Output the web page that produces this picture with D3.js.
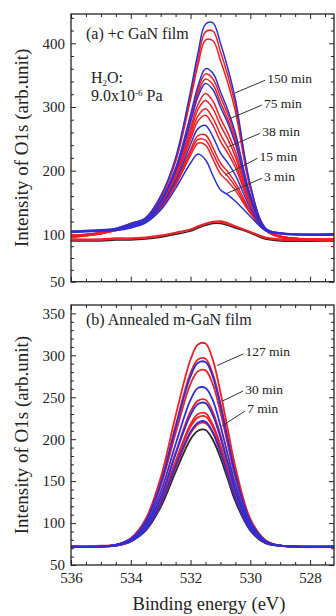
<!DOCTYPE html>
<html>
<head>
<meta charset="utf-8">
<script src="https://cdn.jsdelivr.net/npm/d3@7"></script>
<style>
  body { margin: 0; background: #fff; }
  svg { display: block; font-family: "Liberation Serif", "DejaVu Serif", serif; }
</style>
</head>
<body>
<svg id="chart" width="336" height="616"></svg>
<script>
// Binding energy grid shared by every spectrum (eV)
const energy = [536, 535, 534.5, 534, 533.5, 533, 532.5, 532, 531.75, 531.5, 531.25, 531, 530.75, 530.5, 530, 529.5, 529, 527.2];

// (a) +c GaN film: O1s spectra
const topColors = ["black", "red", "red",
  "blue", "red", "red", "blue", "red", "red", "blue", "red", "red", "red", "red", "blue", "red", "red", "blue", "red"];
const topValues = [
  [93, 93, 94, 94, 95, 97, 100, 105, 110, 114, 117, 117, 114, 110, 102, 95, 93, 93],
  [95, 95, 96, 96, 97, 99, 103, 108, 113, 117, 120, 121, 118, 113, 104, 97, 95, 95],
  [94, 94, 95, 95, 96, 98, 102, 107, 112, 116, 119, 119, 116, 112, 103, 96, 94, 94],
  [103, 105, 106, 110, 118, 138, 172, 212, 226, 217, 192, 170, 162, 152, 128, 106, 101, 99],
  [97, 101, 106, 111, 119, 140, 177, 224, 243, 240, 218, 195, 183, 169, 133, 106, 97, 93],
  [97, 101, 106, 111, 119, 141, 179, 229, 249, 248, 227, 204, 191, 175, 135, 107, 97, 93],
  [104, 106, 107, 112, 120, 144, 184, 241, 266, 271, 253, 228, 212, 193, 141, 107, 101, 100],
  [97, 101, 107, 111, 120, 142, 181, 233, 255, 256, 236, 212, 198, 181, 137, 107, 97, 93],
  [98, 102, 107, 112, 121, 145, 188, 249, 278, 287, 271, 246, 227, 205, 145, 107, 97, 94],
  [104, 106, 108, 114, 122, 150, 199, 276, 316, 337, 327, 300, 274, 242, 156, 108, 102, 100],
  [98, 102, 107, 113, 121, 146, 190, 255, 286, 297, 282, 257, 236, 212, 147, 108, 97, 94],
  [98, 102, 107, 113, 122, 148, 193, 261, 296, 310, 297, 271, 249, 222, 150, 108, 97, 94],
  [98, 102, 108, 113, 122, 149, 195, 267, 304, 321, 309, 282, 259, 230, 152, 108, 98, 94],
  [98, 102, 108, 114, 123, 151, 201, 279, 321, 344, 335, 307, 280, 247, 158, 108, 98, 94],
  [104, 106, 108, 115, 123, 153, 204, 288, 333, 360, 353, 324, 295, 259, 162, 109, 102, 100],
  [98, 102, 108, 114, 123, 152, 202, 284, 327, 352, 344, 316, 288, 253, 160, 109, 98, 94],
  [99, 103, 109, 116, 125, 157, 214, 312, 366, 405, 404, 373, 337, 293, 172, 110, 98, 95],
  [105, 107, 109, 117, 126, 160, 220, 325, 385, 430, 432, 400, 360, 312, 178, 110, 102, 101],
  [99, 103, 109, 117, 126, 159, 217, 319, 376, 418, 419, 387, 349, 303, 175, 110, 98, 95]
];

// (b) Annealed m-GaN film
const botColors = ["black", "red", "blue", "red", "red", "blue", "red", "blue", "red", "blue", "red", "red"];
const botValues = [
  [72, 72, 73, 78, 91, 119, 161, 200, 210, 211, 199, 178, 152, 126, 91, 76, 73, 72],
  [72, 72, 73, 78, 92, 122, 166, 207, 218, 219, 207, 184, 156, 130, 92, 77, 73, 72],
  [72, 72, 73, 78, 92, 123, 168, 209, 220, 221, 208, 185, 157, 130, 92, 77, 73, 72],
  [72, 72, 73, 78, 93, 125, 172, 215, 226, 227, 214, 190, 161, 133, 93, 77, 73, 72],
  [72, 72, 74, 79, 94, 126, 174, 218, 230, 231, 217, 193, 163, 134, 94, 77, 73, 72],
  [72, 72, 74, 79, 95, 130, 182, 229, 242, 243, 228, 202, 170, 139, 95, 77, 73, 72],
  [72, 72, 74, 79, 96, 131, 184, 233, 246, 247, 232, 205, 172, 140, 96, 78, 73, 72],
  [72, 72, 74, 80, 98, 137, 194, 247, 261, 261, 246, 216, 181, 146, 98, 78, 73, 72],
  [72, 72, 74, 81, 101, 144, 207, 266, 281, 282, 265, 232, 193, 154, 101, 79, 73, 72],
  [72, 72, 74, 81, 102, 147, 214, 275, 291, 292, 274, 240, 198, 158, 102, 79, 73, 72],
  [72, 73, 74, 81, 103, 148, 216, 279, 295, 296, 277, 243, 201, 160, 103, 79, 73, 72],
  [72, 72, 74, 82, 105, 154, 228, 295, 313, 314, 294, 256, 211, 167, 105, 80, 73, 72]
];

// Time labels and leader lines, [eV, intensity]
const topLabels = ["150 min", "75 min", "38 min", "15 min", "3 min"];
const topLabelFrom = [[529.50, 342], [529.61, 303], [529.67, 258.6], [529.76, 219.4], [529.61, 188]];
const topLabelTo = [[530.51, 322], [530.67, 282], [530.73, 237.6], [530.84, 193], [530.78, 164.4]];
const botLabels = ["127 min", "30 min", "7 min"];
const botLabelFrom = [[530.23, 301.7], [530.24, 257.4], [530.17, 233.7]];
const botLabelTo = [[531.12, 287.7], [530.94, 245.4], [530.95, 215.8]];

// Ticks
const xTicks = [536, 534, 532, 530, 528];
const xMinor = d3.range(536, 527, -0.5).filter(d => !xTicks.includes(d));
const yTopTicks = [50, 100, 200, 300, 400];
const yTopMinor = [62.5, 75, 87.5].concat(d3.range(120, 446, 20).filter(d => d % 100 !== 0));
const yBotTicks = [50, 100, 150, 200, 250, 300, 350];
const yBotMinor = d3.range(60, 360, 10).filter(d => d % 50 !== 0);

const colorMap = { red: "#ee1f26", blue: "#2d2fd6", black: "#262626" };
const ink = "#222";

const svg = d3.select("#chart");
const x = d3.scaleLinear().domain([536, 527.2]).range([71, 334]);
const yTop = d3.scaleLinear().domain([50, 100, 446]).range([281.7, 234.3, 14]);
const yBot = d3.scaleLinear().domain([50, 360]).range([565, 305]);

function styleAxis(sel) {
  sel.select(".domain").remove();
  sel.selectAll(".tick line").attr("stroke", ink).attr("stroke-width", 1);
  sel.selectAll(".tick text").attr("fill", ink).style("font-size", "15px")
    .style("font-family", "Liberation Serif, serif");
}

function drawPanel(id, y, ticks, minor, colors, values, labels, from, to, showX) {
  const [x0, x1] = x.range();
  const yb = y.range()[0], yt = y.range()[y.range().length - 1];
  const g = svg.append("g");

  svg.append("clipPath").attr("id", "clip-" + id)
    .append("rect").attr("x", x0).attr("y", yt).attr("width", x1 - x0).attr("height", yb - yt);

  // Axes with inward ticks on all four sides
  const axes = [
    [() => d3.axisBottom(x), `translate(0,${yb})`, xTicks, xMinor, showX, 7],
    [() => d3.axisTop(x), `translate(0,${yt})`, xTicks, xMinor, false, 0],
    [() => d3.axisLeft(y), `translate(${x0},0)`, ticks, minor, true, 6],
    [() => d3.axisRight(y), `translate(${x1},0)`, ticks, minor, false, 0]
  ];
  axes.forEach(([make, tr, maj, mnr, lab, pad]) => {
    g.append("g").attr("transform", tr)
      .call(make().tickValues(mnr).tickSize(-3).tickFormat(""))
      .call(styleAxis);
    g.append("g").attr("transform", tr)
      .call(make().tickValues(maj).tickSize(-5).tickPadding(pad)
        .tickFormat(lab ? d3.format("d") : ""))
      .call(styleAxis);
  });

  // Spectra
  const line = d3.line().x((d, i) => x(energy[i])).y(d => y(d)).curve(d3.curveCatmullRom.alpha(0.5));
  const order = ["black", "red", "blue"];
  const idx = d3.range(values.length).sort((a, b) => order.indexOf(colors[a]) - order.indexOf(colors[b]) || a - b);
  g.append("g").attr("clip-path", `url(#clip-${id})`)
    .selectAll("path").data(idx).join("path")
    .attr("d", i => line(values[i]))
    .attr("fill", "none")
    .attr("stroke", i => colorMap[colors[i]])
    .attr("stroke-width", id === "a" ? 1.5 : 1.8)
    .attr("stroke-linejoin", "round");

  // Leader lines and time labels
  labels.forEach((t, i) => {
    g.append("line")
      .attr("x1", x(from[i][0])).attr("y1", y(from[i][1]))
      .attr("x2", x(to[i][0])).attr("y2", y(to[i][1]))
      .attr("stroke", "#333").attr("stroke-width", 1);
    g.append("text")
      .attr("x", x(from[i][0]) + 2).attr("y", y(from[i][1]) + 2.5)
      .attr("fill", ink).style("font-size", "13.5px").text(t);
  });

  // Frame
  g.append("rect").attr("x", x0).attr("y", yt).attr("width", x1 - x0).attr("height", yb - yt)
    .attr("fill", "none").attr("stroke", ink).attr("stroke-width", 1.3);

  // Y title
  g.append("text")
    .attr("transform", `translate(28,${(yb + yt) / 2}) rotate(-90)`)
    .attr("text-anchor", "middle").attr("fill", ink).style("font-size", "19px")
    .text("Intensity of O1s (arb.unit)");
  return g;
}

const ga = drawPanel("a", yTop, yTopTicks, yTopMinor, topColors, topValues, topLabels, topLabelFrom, topLabelTo, false);
const gb = drawPanel("b", yBot, yBotTicks, yBotMinor, botColors, botValues, botLabels, botLabelFrom, botLabelTo, true);

// Panel captions
ga.append("text").attr("x", 86).attr("y", 38.5).attr("fill", ink).style("font-size", "16px").text("(a) +c GaN film");
const h2o = ga.append("text").attr("x", 91).attr("y", 83).attr("fill", ink).style("font-size", "16px");
h2o.append("tspan").text("H");
h2o.append("tspan").attr("dy", 3).style("font-size", "9px").text("2");
h2o.append("tspan").attr("dy", -3).text("O:");
const pr = ga.append("text").attr("x", 91).attr("y", 101).attr("fill", ink).style("font-size", "16px");
pr.append("tspan").text("9.0x10");
pr.append("tspan").attr("dy", -5).style("font-size", "9px").text("-6");
pr.append("tspan").attr("dy", 5).text(" Pa");
gb.append("text").attr("x", 86).attr("y", 325).attr("fill", ink).style("font-size", "16px").text("(b) Annealed m-GaN film");

// X title
svg.append("text").attr("x", 209).attr("y", 610).attr("text-anchor", "middle")
  .attr("fill", ink).style("font-size", "18.5px").text("Binding energy (eV)");
</script>
</body>
</html>
